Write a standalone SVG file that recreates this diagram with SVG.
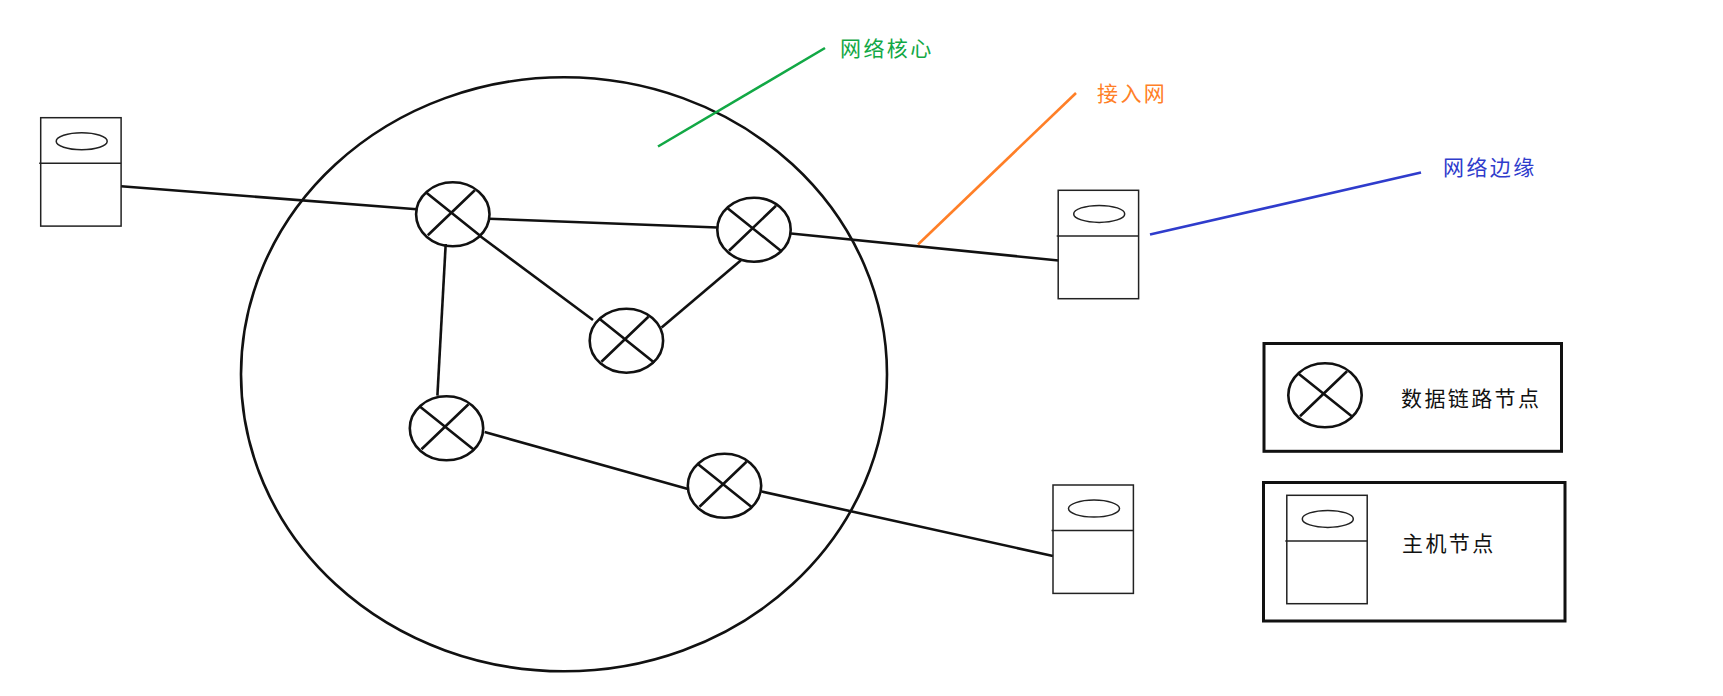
<svg xmlns="http://www.w3.org/2000/svg" width="1723" height="696" viewBox="0 0 1723 696">
<style>
.k{fill:none;stroke:#111;stroke-width:2.6}
.h{fill:none;stroke:#222;stroke-width:1.5}
.f{fill:none;stroke:#111;stroke-width:3}
text{font-family:"Noto Sans CJK SC","Noto Sans",sans-serif;font-size:21px;font-weight:400;letter-spacing:2.4px;dominant-baseline:central}
</style>
<defs>
<g id="sw"><ellipse rx="36.700" ry="32" class="k"/><path d="M-27-22L28 22M22-24L-25 21" class="k"/></g>
<g id="ho"><rect width="80.400" height="108.400" class="h"/><path d="M-1.500 45.600H80.400" class="h"/><ellipse cx="41" cy="23.600" rx="25.500" ry="8.500" class="h"/></g>
</defs>
<rect width="1723" height="696" fill="#fff"/>
<ellipse id="core" cx="564" cy="374.300" rx="323" ry="297" class="k"/>
<g id="connectors" class="k">
<path d="M121 186.300L416.700 209.300"/>
<path d="M489 218.700L717.600 227.500"/>
<path d="M480 236L593 320"/>
<path d="M661.600 327.500L740.700 260.500"/>
<path d="M445.700 244L437.400 395.600"/>
<path d="M484.600 432L688 489"/>
<path d="M761.600 491.500L1053 556"/>
<path d="M791 233.500L1058.500 260.500"/>
<path d="M658 146.500L825 48" stroke="#12a845"/>
<path d="M918 244.500L1076 93" stroke="#ff7f27"/>
<path d="M1150 234.500L1421 172.500" stroke="#2f3ccc"/>
</g>
<g id="switch1"><use href="#sw" x="452.800" y="214.300"/></g>
<g id="switch2"><use href="#sw" x="754" y="229.700"/></g>
<g id="switch3"><use href="#sw" x="626.400" y="340.700"/></g>
<g id="switch4"><use href="#sw" x="446.500" y="428.300"/></g>
<g id="switch5"><use href="#sw" x="724.500" y="485.800"/></g>
<g id="host1"><use href="#ho" x="40.700" y="117.700"/></g>
<g id="host2"><use href="#ho" x="1058.200" y="190.300"/></g>
<g id="host3"><use href="#ho" x="1053" y="485"/></g>
<g id="label-core"><text x="840" y="47" fill="#12a845">网络核心</text></g>
<g id="label-access"><text x="1097" y="91.500" fill="#ff7f27">接入网</text></g>
<g id="label-edge"><text x="1443" y="165.500" fill="#2f3ccc">网络边缘</text></g>
<g id="legend-switch">
<rect x="1264" y="343.500" width="297.500" height="107.800" class="f"/>
<use href="#sw" x="1325" y="395.300"/>
<text x="1401" y="397" fill="#111">数据链路节点</text>
</g>
<g id="legend-host">
<rect x="1263.500" y="482.500" width="301.500" height="138.500" class="f"/>
<use href="#ho" x="1286.800" y="495.300"/>
<text x="1402" y="542" fill="#111">主机节点</text>
</g>
</svg>
